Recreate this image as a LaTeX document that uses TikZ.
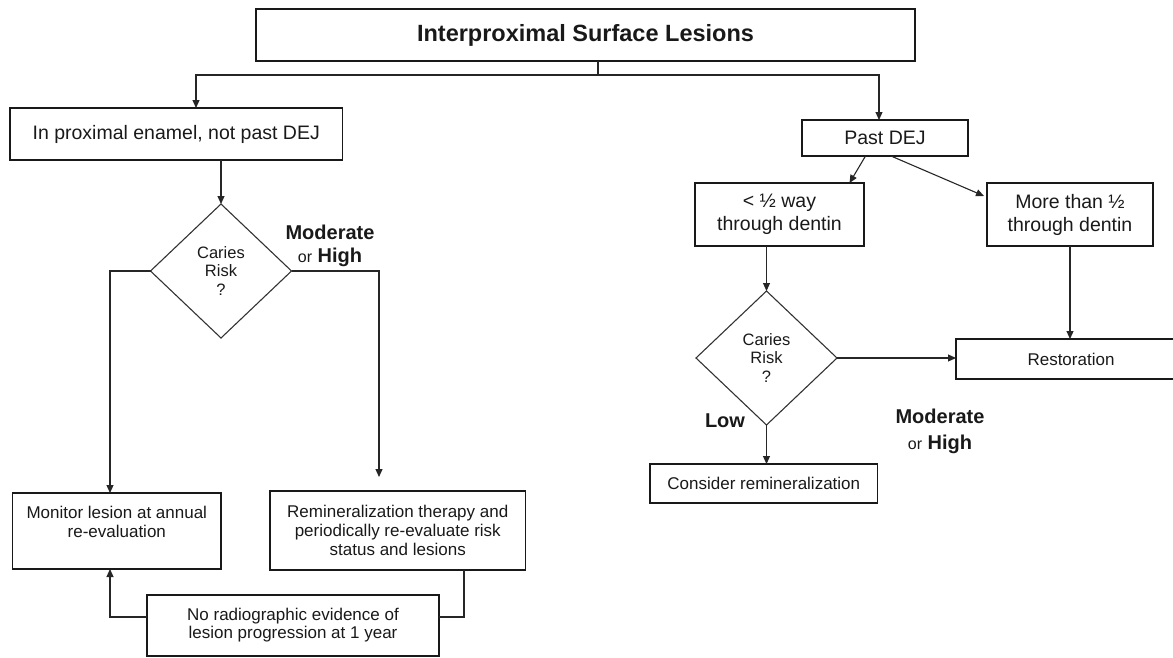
\documentclass[tikz,border=0pt]{standalone}
\usepackage{fontspec}
\setmainfont{Liberation Sans}
\usetikzlibrary{shapes.geometric,arrows.meta,calc}
\begin{document}
\begin{tikzpicture}[x=1pt,y=-1pt,
  box/.style={draw=black!90, line width=1.3pt, rectangle, inner sep=0pt, outer sep=0pt, align=center, text=black!90},
  dia/.style={draw=black!80, line width=1.1pt, diamond, inner sep=0pt, outer sep=0pt, align=center, text=black!90, minimum width=141pt, minimum height=134pt, font=\fontsize{16.5}{18.3}\selectfont},
  big/.style={font=\fontsize{19.5}{23}\selectfont},
  small/.style={font=\fontsize{17}{19}\selectfont},
  conn/.style={draw=black!85, line width=1.1pt},
  arr/.style={conn, -{Triangle[length=8pt,width=7pt]}},
  lbl/.style={align=center, inner sep=0pt, text=black!90, font=\fontsize{20}{23}\selectfont\bfseries}
]
\useasboundingbox (0,0) rectangle (1173,657);
\clip (0,0) rectangle (1173,657);

% nodes
\node[box, minimum width=659pt, minimum height=52pt, font=\fontsize{23.5}{26}\selectfont\bfseries] (title) at (585.5,35) {Interproximal Surface Lesions};
\node[box, big, minimum width=332.5pt, minimum height=52pt] (inprox) at (176.25,134) {In proximal enamel, not past DEJ};
\node[dia] (d1) at (221,271) {Caries\\Risk\\?};
\node[box, small, minimum width=208.4pt, minimum height=76pt] (monitor) at (116.8,531) {Monitor lesion at annual\\re-evaluation\\[0pt]~};
\node[box, small, minimum width=255.5pt, minimum height=79pt] (remin) at (397.75,530.5) {Remineralization therapy and\\periodically re-evaluate risk\\status and lesions};
\node[box, small, minimum width=292pt, minimum height=61pt] (norad) at (293,625.5) {\raisebox{4.5pt}{\begin{tabular}{@{}c@{}}No radiographic evidence of\\[-1pt]lesion progression at 1 year\end{tabular}}};

\node[box, big, minimum width=166pt, minimum height=36pt] (pastdej) at (885,138) {Past DEJ};
\node[box, big, minimum width=169pt, minimum height=63pt] (lthalf) at (779.5,214.5) {< ½ way\\through dentin};
\node[box, big, minimum width=166pt, minimum height=63pt] (more) at (1070,214.5) {More than ½\\through dentin};
\node[dia] (d2) at (766.5,358) {Caries\\Risk\\?};
\node[box, small, minimum width=234pt, minimum height=40pt] (resto) at (1073,359) {\hspace*{-1pt}Restoration\hspace*{3pt}};
\node[box, small, minimum width=227.6pt, minimum height=39pt] (consider) at (763.8,483.5) {Consider remineralization};

% labels
\node[lbl] (lblA) at (330,245.5) {Moderate\\{\fontsize{16}{23}\selectfont\mdseries or} High};
\node[lbl] (lblLow) at (725,421) {Low};
\node[lbl, font=\fontsize{20}{26}\selectfont\bfseries] (lblB) at (940,431) {Moderate\\{\fontsize{16}{26}\selectfont\mdseries or} High};

% helper coordinates
\coordinate (js) at (598,75);
\coordinate (jl) at (196,75);
\coordinate (jr) at (879,75);
\coordinate (mlx) at (110,0);
\coordinate (mrx) at (379,0);
\coordinate (c1) at (464,617);

% connectors
\draw[conn] (title.south -| js) -- (js);
\draw[arr] (js) -| (inprox.north -| jl);
\draw[arr] (js) -| (pastdej.north -| jr);
\draw[arr] (inprox.south -| d1.north) -- (d1.north);
\draw[arr] (d1.west) -| (monitor.north -| mlx);
\draw[arr, shorten >=14pt] (d1.east) -| (remin.north -| mrx);
\draw[conn] (remin.south -| c1) -- (c1) -- (norad.east |- c1);
\draw[arr] (norad.west |- c1) -| (monitor.south -| mlx);

\draw[arr] ([xshift=-19.5pt]pastdej.south) -- ([xshift=70pt]lthalf.north);
\draw[arr] ([xshift=6pt]pastdej.south) -- ($(more.north west)+(-3,13)$);
\draw[arr] (lthalf.south -| d2.north) -- (d2.north);
\draw[arr] (more.south) -- (more.south |- resto.north);
\draw[arr] (d2.east) -- (d2.east -| resto.west);
\draw[arr] (d2.south) -- (d2.south |- consider.north);
\end{tikzpicture}
\end{document}
